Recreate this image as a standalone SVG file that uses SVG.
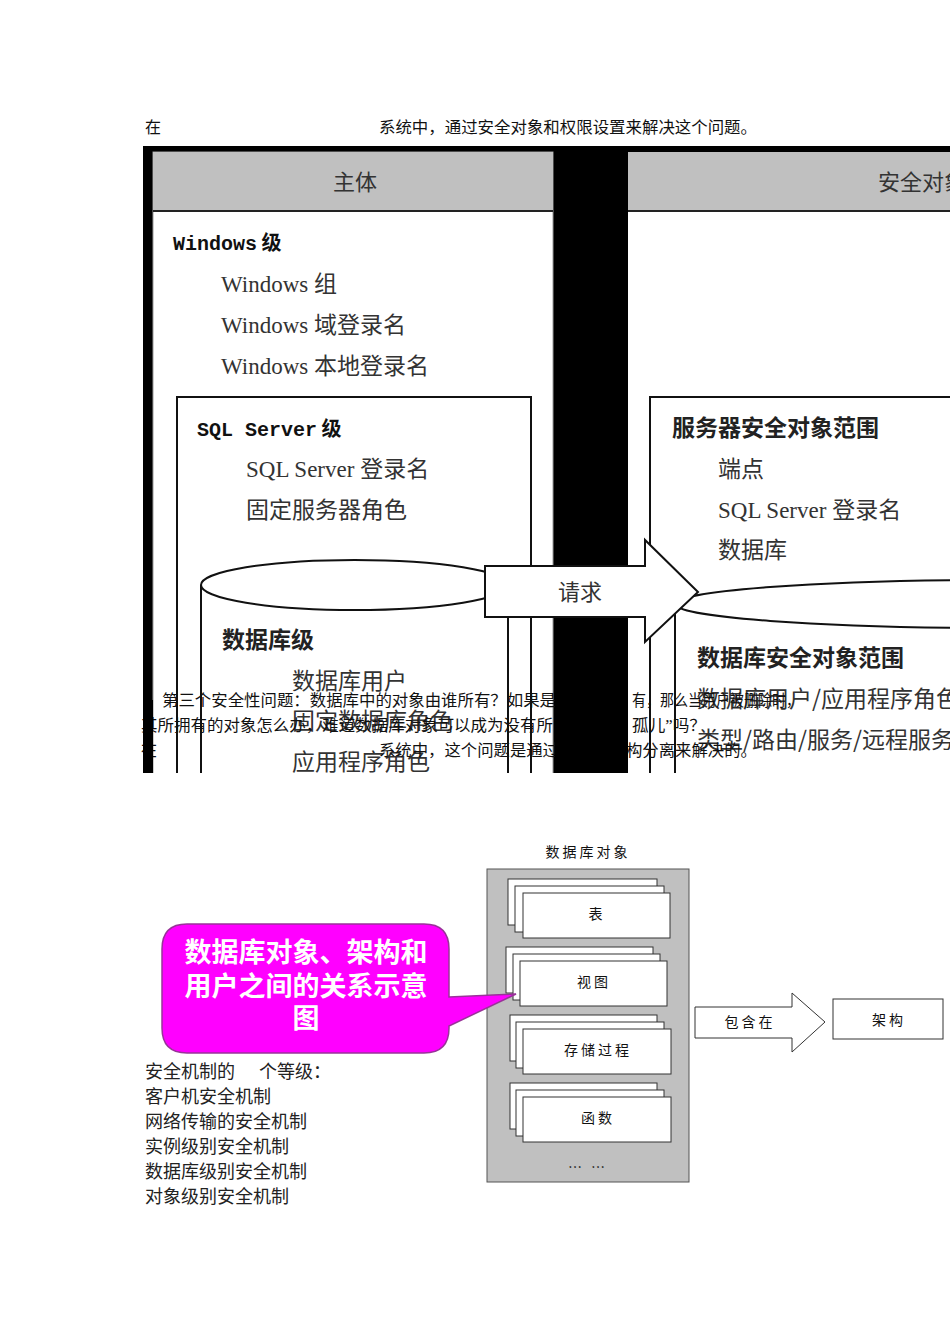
<svg xmlns="http://www.w3.org/2000/svg" width="950" height="1344" viewBox="0 0 950 1344">
<style>
.para{font-family:"Liberation Serif","Noto Sans CJK SC",serif;font-size:16px;fill:#111}
.hdr{font-family:"Noto Sans CJK SC",sans-serif;font-size:22px;fill:#333}
.bold{font-family:"Liberation Mono","Noto Sans CJK SC",monospace;font-size:20px;font-weight:bold;fill:#111}
.boldcn{font-family:"Noto Sans CJK SC",sans-serif;font-size:23px;font-weight:bold;fill:#222}
.item{font-family:"Liberation Serif","Noto Sans CJK SC",serif;font-size:23px;fill:#333}
.itemcn{font-family:"Noto Sans CJK SC",sans-serif;font-size:23px;fill:#333}
.ln{fill:none;stroke:#111;stroke-width:2}
.lnw{fill:#fff;stroke:#111;stroke-width:2}
.card{fill:#fff;stroke:#333;stroke-width:1}
.small{font-family:"Noto Sans CJK SC",sans-serif;font-size:14px;fill:#111;letter-spacing:3px}
.list{font-family:"Noto Sans CJK SC",serif;font-size:18px;fill:#222}
.call{font-family:"Noto Sans CJK SC",sans-serif;font-size:27px;font-weight:bold;fill:#fff}
</style>
<defs>
<clipPath id="img"><rect x="143" y="146" width="807" height="627"/></clipPath>
</defs>
<rect width="950" height="1344" fill="#fff"/>

<text class="para" x="145" y="133">在</text>
<text class="para" x="379" y="133" textLength="378" lengthAdjust="spacingAndGlyphs">系统中，通过安全对象和权限设置来解决这个问题。</text>

<g id="top-diagram" clip-path="url(#img)">
  <rect x="143" y="146" width="807" height="627" fill="#000"/>
  <g id="principal-panel">
    <rect x="153" y="152" width="400" height="630" fill="#fff" stroke="#999" stroke-width="1"/>
    <rect x="153" y="152" width="400" height="59" fill="#c0c0c0"/>
    <line x1="153" y1="211" x2="553" y2="211" stroke="#222" stroke-width="2"/>
    <text class="hdr" x="355" y="190" text-anchor="middle">主体</text>
    <text class="bold" x="173" y="250">Windows<tspan font-family="Noto Sans CJK SC"> 级</tspan></text>
    <text class="item" x="221" y="292">Windows <tspan class="itemcn">组</tspan></text>
    <text class="item" x="221" y="333">Windows <tspan class="itemcn">域登录名</tspan></text>
    <text class="item" x="221" y="374">Windows <tspan class="itemcn">本地登录名</tspan></text>
  </g>
  <g id="sqlserver-level">
    <rect x="177" y="397" width="354" height="420" class="lnw"/>
    <text class="bold" x="197" y="436">SQL Server<tspan font-family="Noto Sans CJK SC"> 级</tspan></text>
    <text class="item" x="246" y="477">SQL Server <tspan class="itemcn">登录名</tspan></text>
    <text class="itemcn" x="246" y="518">固定服务器角色</text>
  </g>
  <g id="database-level">
    <line class="ln" x1="201" y1="585" x2="201" y2="800"/>
    <line class="ln" x1="508" y1="585" x2="508" y2="800"/>
    <ellipse cx="354.5" cy="585" rx="153.5" ry="25" class="lnw"/>
    <text class="boldcn" x="222" y="648">数据库级</text>
    <text class="itemcn" x="292" y="689">数据库用户</text>
    <text class="itemcn" x="292" y="729">固定数据库角色</text>
    <text class="itemcn" x="292" y="770">应用程序角色</text>
  </g>
  <g id="securable-panel">
    <rect x="628" y="152" width="330" height="630" fill="#fff"/>
    <rect x="628" y="152" width="330" height="59" fill="#c0c0c0"/>
    <line x1="628" y1="211" x2="950" y2="211" stroke="#222" stroke-width="2"/>
    <text class="hdr" x="878" y="190">安全对象</text>
  </g>
  <g id="server-scope">
    <rect x="650" y="397" width="320" height="420" class="lnw"/>
    <text class="boldcn" x="672" y="436">服务器安全对象范围</text>
    <text class="itemcn" x="718" y="477">端点</text>
    <text class="item" x="718" y="518">SQL Server <tspan class="itemcn">登录名</tspan></text>
    <text class="itemcn" x="718" y="558">数据库</text>
  </g>
  <g id="database-scope">
    <line class="ln" x1="675" y1="604" x2="675" y2="800"/>
    <ellipse cx="1000" cy="604" rx="325" ry="24" class="lnw"/>
    <text class="boldcn" x="697" y="666">数据库安全对象范围</text>
    <text class="itemcn" x="697" y="707">数据库用户/应用程序角色</text>
    <text class="itemcn" x="697" y="748">类型/路由/服务/远程服务</text>
  </g>
  <g id="request-arrow">
    <polygon points="485,566 645,566 645,540 698,592 645,642 645,617 485,617" class="lnw"/>
    <text class="hdr" x="580" y="600" text-anchor="middle">请求</text>
  </g>
</g>

<g id="paragraph">
  <text class="para" x="162" y="706" textLength="394" lengthAdjust="spacingAndGlyphs">第三个安全性问题：数据库中的对象由谁所有？如果是</text>
  <text class="para" x="632" y="706" textLength="168" lengthAdjust="spacingAndGlyphs">有，那么当用户被删除时，</text>
  <text class="para" x="141" y="731" textLength="412" lengthAdjust="spacingAndGlyphs">其所拥有的对象怎么办，难道数据库对象可以成为没有所</text>
  <text class="para" x="632" y="731" textLength="74" lengthAdjust="spacingAndGlyphs">孤儿”吗？</text>
  <text class="para" x="141" y="756">在</text>
  <text class="para" x="379" y="756" textLength="180" lengthAdjust="spacingAndGlyphs">系统中，这个问题是通过</text>
  <text class="para" x="626" y="756" textLength="131" lengthAdjust="spacingAndGlyphs">构分离来解决的。</text>
  <rect x="555" y="700" width="73" height="73" fill="#000"/>
  <rect x="143" y="700" width="10" height="73" fill="#000"/>
</g>

<g id="db-objects">
  <text class="small" x="588" y="857" text-anchor="middle">数据库对象</text>
  <rect x="487" y="869" width="202" height="313" fill="#c0c0c0" stroke="#555" stroke-width="1"/>
  <g id="card-table">
    <rect class="card" x="508" y="879" width="149" height="46"/>
    <rect class="card" x="515" y="886" width="149" height="46"/>
    <rect class="card" x="523" y="893" width="147" height="45"/>
    <text class="small" x="597" y="919" text-anchor="middle">表</text>
  </g>
  <g id="card-view">
    <rect class="card" x="506" y="947" width="147" height="46"/>
    <rect class="card" x="513" y="954" width="147" height="46"/>
    <rect class="card" x="520" y="961" width="147" height="45"/>
    <text class="small" x="594" y="987" text-anchor="middle">视图</text>
  </g>
  <g id="card-proc">
    <rect class="card" x="510" y="1015" width="147" height="46"/>
    <rect class="card" x="516" y="1022" width="148" height="46"/>
    <rect class="card" x="523" y="1029" width="148" height="45"/>
    <text class="small" x="598" y="1055" text-anchor="middle">存储过程</text>
  </g>
  <g id="card-func">
    <rect class="card" x="510" y="1083" width="147" height="46"/>
    <rect class="card" x="516" y="1090" width="148" height="46"/>
    <rect class="card" x="523" y="1097" width="148" height="45"/>
    <text class="small" x="598" y="1123" text-anchor="middle">函数</text>
  </g>
  <text class="small" x="588" y="1172" text-anchor="middle" font-size="10">… …</text>
</g>

<g id="connectors">
  <polygon points="695,1007 792,1007 792,993 825,1022 792,1052 792,1038 695,1038" fill="#fff" stroke="#333" stroke-width="1"/>
  <text class="small" x="750" y="1027" text-anchor="middle">包含在</text>
</g>

<g id="schema">
  <rect x="833" y="999" width="110" height="40" fill="#fff" stroke="#333" stroke-width="1"/>
  <text class="small" x="889" y="1025" text-anchor="middle">架构</text>
</g>

<g id="callout">
  <path d="M187,924 H424 Q449,924 449,949 V997 L516,994 L449,1026 V1028 Q449,1053 424,1053 H187 Q162,1053 162,1028 V949 Q162,924 187,924 Z" fill="#ff00ff" stroke="#993399" stroke-width="1.5"/>
  <text class="call" x="306" y="962" text-anchor="middle">数据库对象、架构和</text>
  <text class="call" x="306" y="996" text-anchor="middle">用户之间的关系示意</text>
  <text class="call" x="306" y="1028" text-anchor="middle">图</text>
</g>

<g id="levels">
  <text class="list" x="145" y="1078">安全机制的</text>
  <text class="list" x="259" y="1078">个等级：</text>
  <text class="list" x="145" y="1103">客户机安全机制</text>
  <text class="list" x="145" y="1128">网络传输的安全机制</text>
  <text class="list" x="145" y="1153">实例级别安全机制</text>
  <text class="list" x="145" y="1178">数据库级别安全机制</text>
  <text class="list" x="145" y="1203">对象级别安全机制</text>
</g>
</svg>
